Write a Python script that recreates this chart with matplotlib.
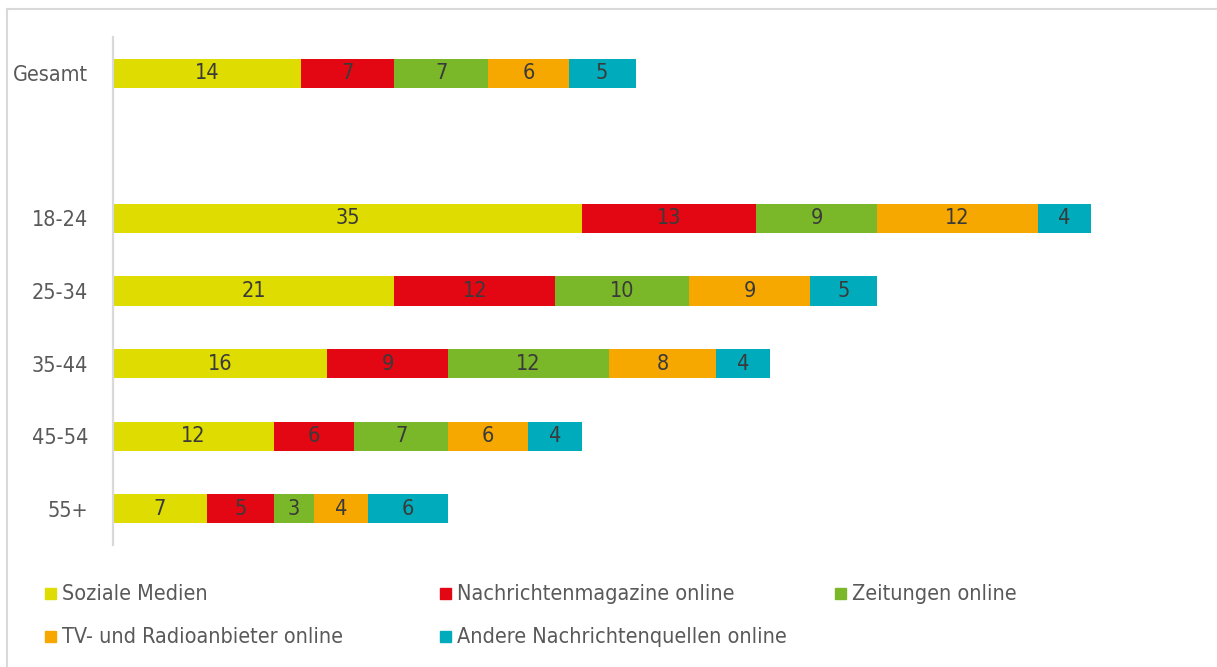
import matplotlib
matplotlib.use("Agg")
import matplotlib.pyplot as plt
from matplotlib import font_manager
from matplotlib.lines import Line2D
from matplotlib.patches import Rectangle

# look for a narrow face, the original uses a condensed DIN-like font
narrow = None
for f in font_manager.fontManager.ttflist:
    tag = (f.name + " " + f.fname).lower()
    if ("condensed" in tag or "narrow" in tag) and f.weight in (400, "normal", "regular") \
            and f.style == "normal" and "semi" not in tag and "extra" not in tag:
        narrow = f
        break

if narrow is not None:
    plt.rcParams["font.family"] = [narrow.name, "DejaVu Sans"]
    plt.rcParams["font.stretch"] = narrow.stretch
else:
    plt.rcParams["font.family"] = ["DejaVu Sans"]

# rows, top to bottom ("" = empty spacer row)
categories = ["Gesamt", "", "18-24", "25-34", "35-44", "45-54", "55+"]
series = ["Soziale Medien", "Nachrichtenmagazine online", "Zeitungen online",
          "TV- und Radioanbieter online", "Andere Nachrichtenquellen online"]
soziale = [14, 0, 35, 21, 16, 12, 7]
magazine = [7, 0, 13, 12, 9, 6, 5]
zeitungen = [7, 0, 9, 10, 12, 7, 3]
tv_radio = [6, 0, 12, 9, 8, 6, 4]
andere = [5, 0, 4, 5, 4, 4, 6]
colors = ["#DEDC00", "#E30613", "#7AB829", "#F6A800", "#00ACBB"]

values = [soziale, magazine, zeitungen, tv_radio, andere]

fig = plt.figure(figsize=(12.17, 6.67), dpi=100)
W, H = 1217, 667
ax = fig.add_axes([113 / W, 1 - 545 / H, 1076 / W, (545 - 37) / H])

y = list(range(len(categories)))
left = [0] * len(categories)
for vals, col in zip(values, colors):
    bars = ax.barh(y, vals, left=left, height=0.4, color=col, edgecolor="none")
    for b, v in zip(bars, vals):
        if v > 0:
            ax.text(b.get_x() + b.get_width() / 2, b.get_y() + b.get_height() / 2, str(v),
                    ha="center", va="center", fontsize=15.5, color="#3a3a3a")
    left = [l + v for l, v in zip(left, vals)]

ax.set_xlim(0, 80.3)
ax.set_ylim(6.5, -0.5)
ax.set_yticks(y)
ax.set_yticklabels(categories, fontsize=15.5, color="#595959")
ax.tick_params(axis="y", length=0, pad=18)
ax.set_xticks([])
for s in ["top", "right", "bottom"]:
    ax.spines[s].set_visible(False)
ax.spines["left"].set_color("#D9D9D9")
ax.spines["left"].set_linewidth(1.6)

# legend, laid out row by row like the original
legend_pos = [(45, 594), (440, 594), (835, 594), (45, 637), (440, 637)]
for (lx, ly), name, col in zip(legend_pos, series, colors):
    fig.patches.append(Rectangle((lx / W, 1 - (ly + 5) / H), 11 / W, 11 / H,
                                 color=col, transform=fig.transFigure))
    fig.text((lx + 17) / W, 1 - ly / H, name, fontsize=15.5, color="#595959",
             ha="left", va="center")

# light frame (top and left edge)
fig.add_artist(Line2D([7 / W, 1], [1 - 9 / H, 1 - 9 / H], color="#D9D9D9", lw=1.5,
                      transform=fig.transFigure))
fig.add_artist(Line2D([7 / W, 7 / W], [0, 1 - 9 / H], color="#D9D9D9", lw=1.5,
                      transform=fig.transFigure))

fig.savefig("out.png", dpi=100)
